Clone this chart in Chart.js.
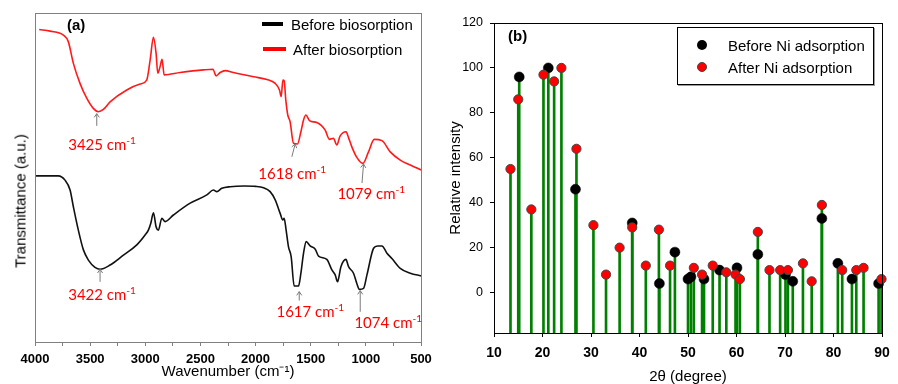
<!DOCTYPE html>
<html>
<head>
<meta charset="utf-8">
<script src="https://cdn.jsdelivr.net/npm/chart.js@4.4.0/dist/chart.umd.min.js"></script>
<style>
html,body{margin:0;padding:0;background:#fff;}
#wrap{position:relative;width:898px;height:384px;overflow:hidden;}
.panel{position:absolute;top:0;height:384px;}
#pa{left:0;width:450px;}
#pb{left:450px;width:448px;}
canvas{position:absolute;left:0;top:0;}
.t{position:absolute;white-space:nowrap;line-height:1;transform:translateY(-50%);font-family:'Liberation Sans',Arial,sans-serif;font-size:15px;color:#000;}
.b{font-weight:bold;}
.ann{position:absolute;white-space:nowrap;line-height:1;transform:translate(-50%,-50%);font-family:Lato,'Open Sans',sans-serif;font-size:15px;color:#ff0000;}
.ann sup{font-size:10px;vertical-align:baseline;position:relative;top:-6px;}
.swatch{position:absolute;height:4px;}
.dot{position:absolute;width:10px;height:10px;border-radius:50%;box-sizing:border-box;transform:translate(-50%,-50%);}
.ytitle{position:absolute;white-space:nowrap;line-height:1;font-family:'Liberation Sans',Arial,sans-serif;font-size:15px;color:#000;transform:translate(-50%,-50%) rotate(-90deg);}
.lbox{position:absolute;border:1px solid #000;box-shadow:1px 1px 0 #9a9a9a;background:#fff;}
</style>
</head>
<body>
<div id="wrap">
  <div class="panel" id="pa">
    <canvas id="ca" width="450" height="384"></canvas>
    <div class="ytitle" style="left:20px;top:201px;">Transmittance (a.u.)</div>
    <div class="t b" style="left:67px;top:24px;">(a)</div>
    <div class="swatch" style="left:262px;top:22px;width:21px;background:#000;"></div>
    <div class="t" style="left:291px;top:24px;">Before biosorption</div>
    <div class="swatch" style="left:263px;top:47px;width:23px;background:#ff0000;"></div>
    <div class="t" style="left:293px;top:49px;">After biosorption</div>
  </div>
  <div class="panel" id="pb">
    <canvas id="cb" width="448" height="384"></canvas>
    <div class="t b" style="left:58px;top:35px;">(b)</div>
    <div class="lbox" style="left:227px;top:27px;width:195px;height:56px;"></div>
    <div class="dot" style="left:252px;top:45px;background:#000;"></div>
    <div class="t" style="left:278px;top:45px;">Before Ni adsorption</div>
    <div class="dot" style="left:252px;top:67px;background:#ff0000;border:1px solid #444;"></div>
    <div class="t" style="left:278px;top:67px;">After Ni adsorption</div>
  </div>
</div>
<script>
// ---------- Panel (a): FTIR spectra ----------
const ftirWnBefore = [4000,3789,3728,3682,3652,3607,3561,3516,3456,3410,3319,3198,3077,3002,2972,2950,2926,2902,2881,2850,2820,2745,2593,2442,2382,2351,2306,2230,2100,2000,1928,1868,1822,1777,1753,1741,1723,1702,1677,1650,1611,1589,1565,1541,1505,1459,1429,1354,1308,1278,1257,1226,1181,1157,1112,1082,1058,1021,990,930,894,854,809,764,688,597,500];
const ftirBefore = [50.5,50.5,49.2,46.2,41.1,34.0,28.0,24.9,22.7,22.1,23.4,26.4,29.5,32.5,34.0,36.1,39.3,35.0,34.0,37.6,36.6,38.6,42.2,44.7,46.2,45.7,46.7,47.2,47.4,47.3,46.9,45.7,43.2,39.1,37.1,37.6,34.0,29.0,25.9,17.0,17.0,20.9,27.0,30.5,29.2,28.2,26.1,25.1,21.9,20.4,18.3,22.9,25.1,22.9,20.9,17.8,16.0,16.3,20.4,28.5,29.2,29.2,27.0,25.4,22.4,20.9,20.1];
const ftirWnAfter = [3962,3864,3743,3698,3652,3592,3531,3471,3426,3380,3319,3168,3047,2987,2956,2926,2902,2887,2866,2848,2829,2684,2473,2387,2358,2321,2276,2201,2019,1897,1822,1783,1768,1752,1741,1726,1708,1687,1656,1620,1589,1565,1544,1511,1445,1369,1330,1294,1263,1234,1179,1158,1128,1082,1027,976,924,854,779,688,597,500];
const ftirAfter = [95.0,94.5,93.3,91.3,84.7,78.6,74.1,71.0,70.0,70.7,73.0,76.6,78.4,79.6,85.7,92.6,87.7,81.7,83.7,85.9,81.2,81.9,82.7,82.9,80.9,81.9,82.5,81.9,80.6,79.8,78.6,76.6,74.6,79.6,79.4,73.6,69.0,67.0,60.4,60.2,63.9,67.5,69.0,67.3,66.7,64.4,61.6,61.9,59.9,62.6,63.9,62.2,59.4,56.1,54.3,57.8,61.6,61.2,57.8,55.3,53.8,52.3];
const ftirXMin = 500, ftirXMax = 4000, ftirXStep = 250, ftirXLabelStep = 500;
const ftirYMin = 0, ftirYMax = 100;

// peak annotations (data units)
const annText   = ['3425 cm','1618 cm','1079 cm','3422 cm','1617 cm','1074 cm'];
const annTipX   = [3440, 1641, 1021, 3410, 1604, 1051];
const annTipY   = [69.4, 60.2, 54.1, 22.1, 15.3, 15.6];
const annTailX  = [3440, 1671, 1035, 3410, 1604, 1051];
const annTailY  = [65.7, 56.3, 48.3, 18.3, 12.6, 9.2];
const annLabelX = [3392, 1668, 951, 3392, 1504, 797];
const annLabelY = [60.2, 51.4, 45.3, 14.6, 9.4, 6.1];

// ---------- Panel (b): XRD peaks ----------
const xrdAngleBefore = [15.2,21.2,26.8,38.5,44.1,47.3,50.0,50.6,53.3,56.5,60.1,64.4,70.1,71.6,77.6,80.9,83.8,89.3];
const xrdBefore      = [96,100,46,31,4,18,6,7,6,10,11,17,8,5,33,13,6,4];
const xrdAngleAfter  = [13.4,15.0,17.7,20.2,22.4,23.9,27.0,30.5,33.1,35.9,38.5,41.3,44.0,46.3,51.2,52.9,55.1,57.9,59.8,60.7,64.4,66.8,69.0,70.6,73.7,75.5,77.6,81.8,84.7,86.2,89.9];
const xrdAfter       = [55,86,37,97,94,100,64,30,8,20,29,12,28,12,11,8,12,9,8,6,27,10,10,10,13,5,39,10,10,11,6];
const xrdYTicks = [0,20,40,60,80,100,120];
const xrdXMin = 10, xrdXMax = 90, xrdXStep = 10;
const xrdYMin = -18, xrdYMax = 120;

const FAM = "'Liberation Sans', Arial, sans-serif";
Chart.defaults.font.family = FAM;
Chart.defaults.color = '#000';

const toXY = (xs, ys) => xs.map((v, i) => ({x: v, y: ys[i]}));

// ---- chart (a)
const frameA = {
  id: 'frameA',
  afterDraw(chart) {
    const {ctx, chartArea: a, scales: {x, y}} = chart;
    ctx.save();
    ctx.strokeStyle = '#808080';
    ctx.lineWidth = 1;
    ctx.strokeRect(Math.round(a.left) + 0.5, Math.round(a.top) + 0.5, Math.round(a.right - a.left), Math.round(a.bottom - a.top));
    ctx.strokeStyle = '#7a7a7a';
    for (let i = 0; i < annTipX.length; i++) {
      const tx = x.getPixelForValue(annTipX[i]), ty = y.getPixelForValue(annTipY[i]);
      const bx = x.getPixelForValue(annTailX[i]), by = y.getPixelForValue(annTailY[i]);
      ctx.beginPath(); ctx.moveTo(bx, by); ctx.lineTo(tx, ty); ctx.stroke();
      const ang = Math.atan2(ty - by, tx - bx), h = 4.5;
      ctx.beginPath();
      ctx.moveTo(tx - h * Math.cos(ang - 0.6), ty - h * Math.sin(ang - 0.6));
      ctx.lineTo(tx, ty);
      ctx.lineTo(tx - h * Math.cos(ang + 0.6), ty - h * Math.sin(ang + 0.6));
      ctx.stroke();
    }
    ctx.restore();
  }
};

const chartA = new Chart(document.getElementById('ca'), {
  type: 'line',
  data: {
    datasets: [
      {label: 'Before biosorption', data: toXY(ftirWnBefore, ftirBefore), borderColor: '#111', borderWidth: 1.6, pointRadius: 0, cubicInterpolationMode: 'monotone', fill: false},
      {label: 'After biosorption', data: toXY(ftirWnAfter, ftirAfter), borderColor: '#ff1a1a', borderWidth: 1.6, pointRadius: 0, cubicInterpolationMode: 'monotone', fill: false}
    ]
  },
  options: {
    responsive: false, animation: false, devicePixelRatio: 1,
    layout: {padding: {left: 0, top: 13, right: 29, bottom: 0}},
    plugins: {legend: {display: false}, tooltip: {enabled: false}},
    scales: {
      x: {
        type: 'linear', reverse: true, min: ftirXMin, max: ftirXMax, offset: false,
        afterFit(s) { s.height = 42; },
        border: {display: false},
        grid: {drawOnChartArea: false, drawTicks: true, tickLength: 4, tickColor: '#808080'},
        ticks: {stepSize: ftirXStep, autoSkip: false, maxRotation: 0, padding: 6,
          font: {family: FAM, size: 13, weight: 700}, color: '#000',
          callback: v => (v % ftirXLabelStep === 0 ? String(v) : '')},
        title: {display: true, text: 'Wavenumber (cm⁻¹)', font: {size: 15}, padding: {top: 0, bottom: 3}}
      },
      y: {
        type: 'linear', min: ftirYMin, max: ftirYMax,
        afterFit(s) { s.width = 35; },
        border: {display: false},
        grid: {drawOnChartArea: false, drawTicks: false},
        ticks: {display: false}
      }
    }
  },
  plugins: [frameA]
});

(function placeAnn(chart) {
  const host = document.getElementById('pa');
  annText.forEach((t, i) => {
    const d = document.createElement('div');
    d.className = 'ann';
    d.innerHTML = t + '<sup>-1</sup>';
    d.style.left = chart.scales.x.getPixelForValue(annLabelX[i]) + 'px';
    d.style.top = chart.scales.y.getPixelForValue(annLabelY[i]) + 'px';
    host.appendChild(d);
  });
})(chartA);

// ---- chart (b)
const frameB = {
  id: 'frameB',
  afterDraw(chart) {
    const {ctx, chartArea: a} = chart;
    ctx.save();
    ctx.strokeStyle = '#000';
    ctx.lineWidth = 1;
    ctx.strokeRect(Math.round(a.left) + 0.5, Math.round(a.top) + 0.5, Math.round(a.right - a.left), Math.round(a.bottom - a.top));
    ctx.restore();
  }
};

const stemStyle = {type: 'bar', backgroundColor: '#008000', borderWidth: 0, barThickness: 2, grouped: false, base: xrdYMin};
new Chart(document.getElementById('cb'), {
  type: 'scatter',
  data: {
    datasets: [
      Object.assign({label: 'stemAfter', data: toXY(xrdAngleAfter, xrdAfter), order: 3}, stemStyle),
      Object.assign({label: 'stemBefore', data: toXY(xrdAngleBefore, xrdBefore), order: 4}, stemStyle),
      {type: 'scatter', label: 'Before Ni adsorption', data: toXY(xrdAngleBefore, xrdBefore), order: 1,
        pointRadius: 5, pointBackgroundColor: '#000', pointBorderColor: '#000', pointBorderWidth: 0.5, clip: false},
      {type: 'scatter', label: 'After Ni adsorption', data: toXY(xrdAngleAfter, xrdAfter), order: 0,
        pointRadius: 4.6, pointBackgroundColor: '#ff0000', pointBorderColor: '#444', pointBorderWidth: 1, clip: false}
    ]
  },
  options: {
    responsive: false, animation: false, devicePixelRatio: 1,
    layout: {padding: {left: 0, top: 23, right: 16, bottom: 0}},
    plugins: {legend: {display: false}, tooltip: {enabled: false}},
    scales: {
      x: {
        type: 'linear', min: xrdXMin, max: xrdXMax, offset: false,
        afterFit(s) { s.height = 51; },
        border: {display: false},
        grid: {drawOnChartArea: false, drawTicks: true, tickLength: 4, tickColor: '#000', offset: false},
        ticks: {stepSize: xrdXStep, autoSkip: false, maxRotation: 0, padding: 8, font: {family: FAM, size: 14, weight: 700}, color: '#000'},
        title: {display: true, text: '2θ (degree)', font: {size: 15, lineHeight: 1}, padding: 0}
      },
      y: {
        type: 'linear', min: xrdYMin, max: xrdYMax,
        afterFit(s) { s.width = 44; },
        afterBuildTicks(s) { s.ticks = xrdYTicks.map(v => ({value: v})); },
        border: {display: false},
        grid: {drawOnChartArea: false, drawTicks: true, tickLength: 4, tickColor: '#000'},
        ticks: {padding: 7, font: {size: 12.5}, color: '#000'},
        title: {display: true, text: 'Relative intensity', font: {size: 15, lineHeight: 0.8}, padding: 0}
      }
    }
  },
  plugins: [frameB]
});
</script>
</body>
</html>
